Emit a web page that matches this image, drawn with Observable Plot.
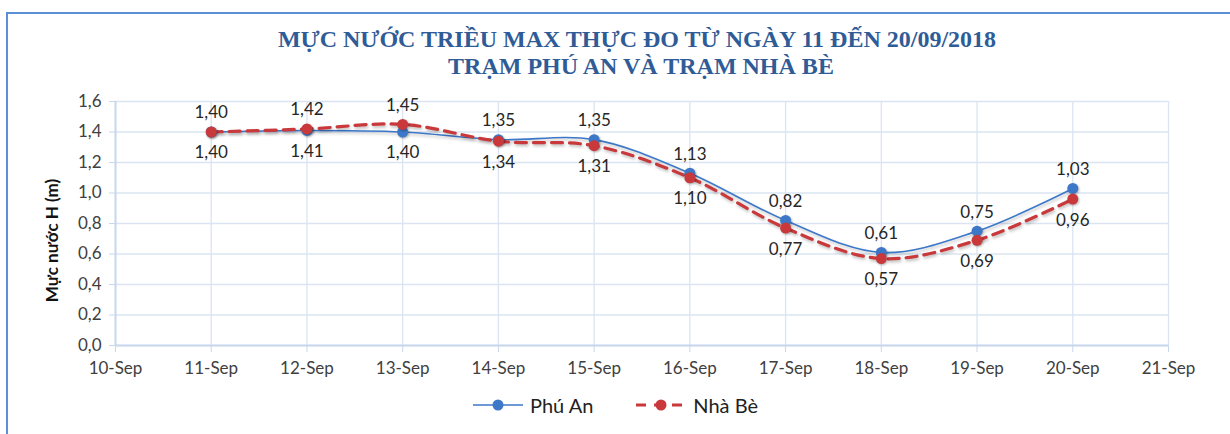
<!DOCTYPE html>
<html>
<head>
<meta charset="utf-8">
<script src="https://cdn.jsdelivr.net/npm/d3@7"></script>
<script src="https://cdn.jsdelivr.net/npm/@observablehq/plot@0.6"></script>
<style>
  html, body { margin: 0; padding: 0; background: #fff; }
  #wrap { position: relative; width: 1230px; height: 434px; overflow: hidden; font-family: Lato, "Open Sans", sans-serif; }
  #frame { position: absolute; left: 6px; top: 12px; width: 1300px; height: 500px; border-left: 2.5px solid #5B8FD6; border-top: 2.5px solid #5B8FD6; box-sizing: border-box; }
  .title { position: absolute; left: 0; width: 1230px; text-align: center; font-family: "Liberation Serif", "Times New Roman", serif; font-weight: bold; font-size: 24px; color: #2F5C97; white-space: nowrap; }
  #chart { position: absolute; left: 0; top: 0; }
  #legend { position: absolute; top: 393px; left: 0; width: 1230px; display: flex; justify-content: center; gap: 42px; font-size: 20px; color: #222; transform: translateX(0px); }
  .item { display: flex; align-items: center; gap: 6px; }
  g[aria-label="line"] path { filter: drop-shadow(1px 2px 1.5px rgba(0,0,0,0.25)); }
  g[aria-label="dot"] circle { filter: drop-shadow(1px 1.5px 1px rgba(0,0,0,0.3)); }
</style>
</head>
<body>
<div id="wrap">
  <div id="frame"></div>
  <div id="chart"></div>
  <div class="title" id="t1" style="top:26px; transform:translateX(22px)">MỰC NƯỚC TRIỀU MAX THỰC ĐO TỪ NGÀY 11 ĐẾN 20/09/2018</div>
  <div class="title" id="t2" style="top:53px; transform:translateX(26px)">TRẠM PHÚ AN VÀ TRẠM NHÀ BÈ</div>
  <div id="legend"></div>
</div>
<script>
const dates = ["2018-09-11","2018-09-12","2018-09-13","2018-09-14","2018-09-15","2018-09-16","2018-09-17","2018-09-18","2018-09-19","2018-09-20"];
const phuAn = [1.40, 1.41, 1.40, 1.35, 1.35, 1.13, 0.82, 0.61, 0.75, 1.03];
const nhaBe = [1.40, 1.42, 1.45, 1.34, 1.31, 1.10, 0.77, 0.57, 0.69, 0.96];
const seriesNames = ["Phú An", "Nhà Bè"];
const seriesColors = ["#3D78C8", "#C9393B"];
const xTickDates = ["2018-09-10","2018-09-11","2018-09-12","2018-09-13","2018-09-14","2018-09-15","2018-09-16","2018-09-17","2018-09-18","2018-09-19","2018-09-20","2018-09-21"];
const yTicks = [0, 0.2, 0.4, 0.6, 0.8, 1.0, 1.2, 1.4, 1.6];
const yLabel = "Mực nước H (m)";

const xTicks = xTickDates.map(d => new Date(d));
const months = ["Jan","Feb","Mar","Apr","May","Jun","Jul","Aug","Sep","Oct","Nov","Dec"];
const fmtDate = d => `${d.getUTCDate()}-${months[d.getUTCMonth()]}`;
const fmtNum = (v, n) => v.toFixed(n).replace(".", ",");

const rowsA = dates.map((d, i) => ({date: new Date(d), value: phuAn[i], above: phuAn[i] > nhaBe[i]}));
const rowsB = dates.map((d, i) => ({date: new Date(d), value: nhaBe[i], above: nhaBe[i] >= phuAn[i]}));
const allRows = rowsA.concat(rowsB);

const gridColor = "#DAE4F2";
const axisColor = "#C8D7EC";

const chart = Plot.plot({
  width: 1230,
  height: 434,
  marginLeft: 115,
  marginRight: 62,
  marginTop: 101,
  marginBottom: 89,
  style: {fontFamily: "Lato, 'Open Sans', sans-serif", background: "transparent", overflow: "visible"},
  x: {type: "utc", domain: [xTicks[0], xTicks[xTicks.length - 1]]},
  y: {domain: [0, 1.6]},
  marks: [
    Plot.gridY(yTicks, {stroke: gridColor, strokeOpacity: 1, strokeWidth: 1.3}),
    Plot.gridX(xTicks, {stroke: gridColor, strokeOpacity: 1, strokeWidth: 1.3}),
    Plot.ruleX([xTicks[0]], {stroke: axisColor, strokeWidth: 2}),
    Plot.ruleY([0], {stroke: axisColor, strokeWidth: 2}),
    Plot.axisY(yTicks, {tickSize: 6, tickPadding: 8, stroke: axisColor, fill: "#404040", fontSize: 17, tickFormat: v => fmtNum(v, 1), label: null}),
    Plot.axisX(xTicks, {tickSize: 7, tickPadding: 9, stroke: axisColor, fill: "#404040", fontSize: 17, tickFormat: fmtDate, label: null}),
    Plot.text([yLabel], {frameAnchor: "left", textAnchor: "middle", dx: -63, dy: 17, rotate: -90, fontWeight: "bold", fontSize: 17, fill: "#111"}),
    Plot.line(rowsA, {x: "date", y: "value", stroke: seriesColors[0], strokeWidth: 1.6, curve: "catmull-rom"}),
    Plot.line(rowsB, {x: "date", y: "value", stroke: seriesColors[1], strokeWidth: 3.2, strokeDasharray: "11,7", curve: "catmull-rom"}),
    Plot.dot(rowsA, {x: "date", y: "value", r: 5.5, fill: seriesColors[0]}),
    Plot.dot(rowsB, {x: "date", y: "value", r: 5.5, fill: seriesColors[1]}),
    Plot.text(allRows.filter(d => d.above), {x: "date", y: "value", text: d => fmtNum(d.value, 2), dy: -19, fontSize: 17, fill: "#262626"}),
    Plot.text(allRows.filter(d => !d.above), {x: "date", y: "value", text: d => fmtNum(d.value, 2), dy: 21, fontSize: 17, fill: "#262626"})
  ]
});
document.getElementById("chart").appendChild(chart);

const legend = document.getElementById("legend");
seriesNames.forEach((name, i) => {
  const item = document.createElement("div");
  item.className = "item";
  const dash = i === 1 ? 'stroke-dasharray="10,8"' : "";
  const sw = i === 1 ? 3 : 1.6;
  item.innerHTML = `<svg width="52" height="16"><line x1="1" x2="51" y1="8" y2="8" stroke="${seriesColors[i]}" stroke-width="${sw}" ${dash}/><circle cx="26" cy="8" r="5.5" fill="${seriesColors[i]}"/></svg><span>${name}</span>`;
  legend.appendChild(item);
});
</script>
</body>
</html>
